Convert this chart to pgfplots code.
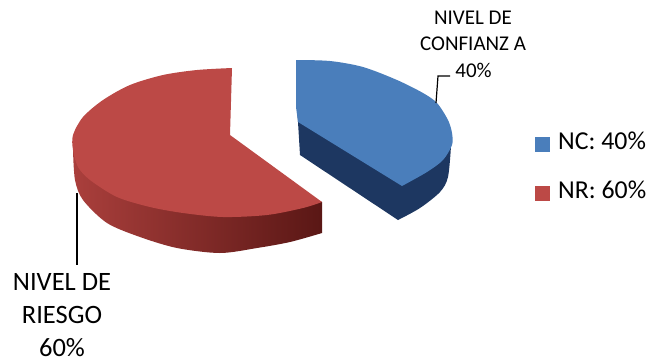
\documentclass[border=0pt]{standalone}
\usepackage{pgfplots}
\pgfplotsset{compat=1.18}
\usepackage{fontspec}
\setmainfont{Carlito}
\definecolor{ncTop}{HTML}{4A7EBB}
\definecolor{ncSide}{HTML}{1D3761}
\definecolor{nrTop}{HTML}{BC4946}
\definecolor{nrSideA}{HTML}{AA3F3C}
\definecolor{nrSideB}{HTML}{84201F}
\definecolor{nrSideC}{HTML}{5A1715}
\begin{document}
\begin{tikzpicture}
\useasboundingbox (0,0) rectangle (648pt,360pt);
\begin{axis}[
  at={(0,0)}, anchor=south west,
  scale only axis, width=648pt, height=360pt,
  xmin=0, xmax=648, ymin=0, ymax=360, y dir=reverse,
  hide axis, clip=false,
  area legend,
  legend cell align=left,
  legend style={draw=none, fill=none, at={(axis cs:535,130)}, anchor=north west,
    font=\fontsize{25.8}{28}\selectfont, row sep=26pt,
    inner xsep=0pt, inner ysep=0pt},
  legend image code/.code={\fill[#1] (0pt,-10pt) rectangle (15pt,5pt); \path (21pt,0pt);},
]
% blue slice: side wall, then top face
\addplot[draw=none, fill=ncSide, smooth, forget plot] coordinates {
  (398,220) (420,208) (440,192) (448,177) (451,146)}
  -- (axis cs:420,130) -- (axis cs:297,108) -- (axis cs:298,122) -- (axis cs:300,155) -- cycle;
\addplot[draw=none, fill=ncTop, smooth] coordinates {
  (296,60) (330,61) (363,67) (397,80) (423,93) (437,103) (448,120) (452,133) (452,145)
  (443,160) (427,172) (402,186)}
  -- (axis cs:298,122) -- (axis cs:296,107) -- cycle;
\addlegendentry{NC: 40\%}
% red slice: side wall, then top face
\addplot[draw=none, left color=nrSideA, middle color=nrSideB, right color=nrSideC, smooth, forget plot] coordinates {
  (73,150) (75,180) (83,200) (107,223) (140,237) (177,248) (220,253) (257,248) (290,242) (322,233)}
  -- (axis cs:322,202) -- (axis cs:230,170) -- cycle;
\addplot[draw=none, fill=nrTop, smooth] coordinates {
  (322,202) (303,208) (267,215) (223,217) (183,213) (150,207) (117,197)
  (90,180) (78,167) (73,150) (73,135) (83,117) (103,100) (130,85) (163,75) (197,70) (232,68)}
  -- (axis cs:230,135) -- cycle;
\addlegendentry{NR: 60\%}
% leader lines
\addplot[black, line width=1.2pt, forget plot] coordinates {(436,103) (438,76) (450,76)};
\addplot[black, line width=1.2pt, forget plot] coordinates {(77,193) (77,265)};
% data labels
\node[align=center, anchor=center, font=\fontsize{21}{26.5}\selectfont] at (axis cs:473,44)
  {NIVEL DE\\CONFIANZ A\\\hspace*{1pt}40\%};
\node[align=center, anchor=center, font=\fontsize{26.5}{33}\selectfont] at (axis cs:62,315)
  {NIVEL DE\\RIESGO\\60\%};
\end{axis}
\end{tikzpicture}
\end{document}
